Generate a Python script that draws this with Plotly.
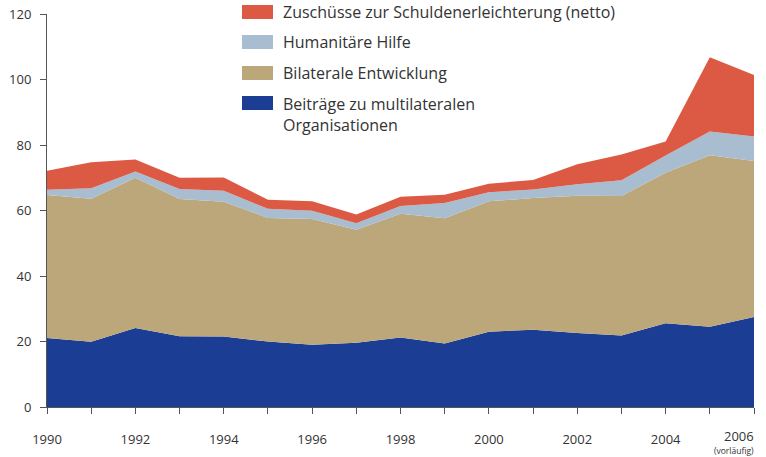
import plotly.graph_objects as go

years = list(range(1990, 2007))
multilateral = [21.1, 19.9, 24.1, 21.6, 21.5, 20.0, 19.0, 19.6, 21.2, 19.4, 23.0, 23.6, 22.6, 21.8, 25.6, 24.5, 27.5]
bilateral = [43.6, 43.7, 45.9, 41.9, 41.2, 37.7, 38.4, 34.5, 37.8, 38.2, 39.8, 40.2, 41.9, 42.6, 45.9, 52.4, 47.6]
humanitaer = [1.6, 3.2, 1.9, 3.1, 3.3, 2.8, 2.5, 2.0, 2.4, 4.7, 2.8, 2.6, 3.5, 4.8, 5.3, 7.2, 7.5]
schulden = [5.8, 7.9, 3.7, 3.4, 4.1, 2.8, 2.9, 2.7, 2.8, 2.5, 2.6, 2.9, 6.1, 7.9, 4.3, 22.7, 18.8]

series_names = ["Beiträge zu multilateralen<br>Organisationen", "Bilaterale Entwicklung",
                "Humanitäre Hilfe", "Zuschüsse zur Schuldenerleichterung (netto)"]
series_values = [multilateral, bilateral, humanitaer, schulden]
colors = ["#1b3d93", "#bba77a", "#a9bdd0", "#dc5a44"]

y_ticks = [0, 20, 40, 60, 80, 100, 120]
x_tickvals = years
x_ticktext = [str(y) if (y % 2 == 0 and y != 2006) else "" for y in years]
last_label = "2006"
note_label = "(vorläufig)"

W, H = 766, 457
PL, PR, PT, PB = 47, 754, 14, 407          # plot area in pixels
L, R, T, B = PL, W - PR, PT, H - PB


def px(x):
    return (x - PL) / (PR - PL)


def py(y):
    return (PB - y) / (PB - PT)


fig = go.Figure()
for name, vals, col in zip(series_names, series_values, colors):
    fig.add_trace(go.Scatter(x=years, y=vals, name=name, stackgroup="one", mode="none",
                             fillcolor=col, showlegend=False, line=dict(width=0)))

font_fam = "Open Sans, Lato, sans-serif"
fig.update_layout(
    width=W, height=H,
    margin=dict(l=L, r=R, t=T, b=B, pad=0),
    paper_bgcolor="white", plot_bgcolor="white",
    font=dict(family=font_fam, size=13, color="#333333"),
    xaxis=dict(range=[1990, 2006], tickvals=x_tickvals, ticktext=x_ticktext,
               ticks="outside", ticklen=6, tickcolor="#555555", showline=True,
               linecolor="#555555", linewidth=1, showgrid=False, zeroline=False,
               automargin=False, ticklabeloverflow="allow",
               ticklabelstandoff=14, tickfont=dict(size=13, color="#333333")),
    yaxis=dict(range=[0, 120], tickvals=y_ticks, ticks="outside", ticklen=6,
               tickcolor="#555555", showline=True, linecolor="#555555", linewidth=1,
               showgrid=False, zeroline=False, ticklabelstandoff=6, automargin=False,
               ticklabeloverflow="allow",
               tickfont=dict(size=13, color="#333333")),
)

# manual legend (top entry first)
legend_rows = [(12, colors[3], series_names[3]), (42, colors[2], series_names[2]),
               (73, colors[1], series_names[1]), (103, colors[0], series_names[0])]
for cy, col, name in legend_rows:
    fig.add_shape(type="rect", xref="paper", yref="paper",
                  x0=px(242), x1=px(273), y0=py(cy - 7), y1=py(cy + 7),
                  fillcolor=col, line=dict(width=0))
    fig.add_annotation(xref="paper", yref="paper", x=px(281), y=py(cy), xanchor="left",
                       yanchor="top" if "<br>" in name else "middle",
                       text=name, showarrow=False, align="left",
                       font=dict(size=16, color="#333333", family=font_fam),
                       yshift=12 if "<br>" in name else 0)

fig.add_annotation(xref="paper", yref="paper", x=px(756), y=py(436), xanchor="right",
                   yanchor="middle", text=last_label, showarrow=False,
                   font=dict(size=13, color="#333333", family=font_fam))
fig.add_annotation(xref="paper", yref="paper", x=px(756), y=py(451), xanchor="right",
                   yanchor="middle", text=note_label, showarrow=False,
                   font=dict(size=8.5, color="#333333", family=font_fam))

fig.write_html("out.html", config={"displayModeBar": False},
               post_script="document.body.style.margin='0';document.body.style.overflow='hidden';")
